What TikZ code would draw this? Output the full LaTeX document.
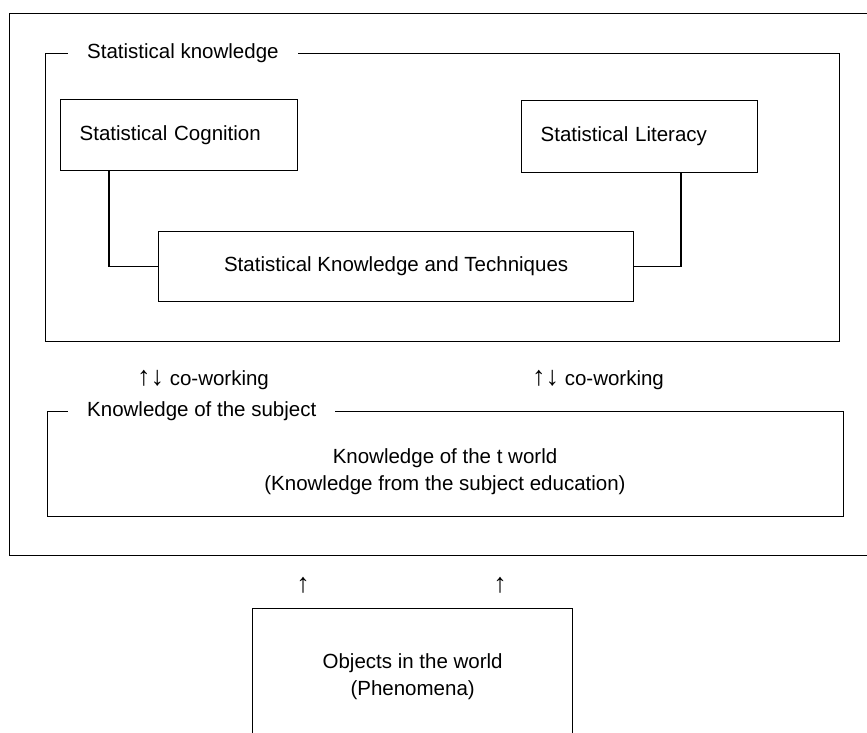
\documentclass[tikz,border=0pt]{standalone}
\usepackage{fontspec}
\setmainfont{Liberation Sans}
\usetikzlibrary{positioning}
\newcommand{\bigarrows}[1]{{\fontsize{27}{27}\selectfont #1}}

\begin{document}
\begin{tikzpicture}[x=1pt, y=-1pt,
  txt/.style={font=\fontsize{20.5}{27}\selectfont, inner sep=0pt},
  frame/.style={draw, line width=1.3pt, inner sep=0pt, anchor=north west},
  framelabel/.style={txt, fill=white, inner xsep=19pt, inner ysep=2pt, anchor=west},
  leftbox/.style={frame, txt, align=left, inner xsep=19pt},
  midbox/.style={frame, txt, align=center}]
\clip (0,0) rectangle (867,732);
% frames
\node[frame, minimum width=880pt, minimum height=542pt] (outer) at (9,13) {};
\node[frame, minimum width=794pt, minimum height=288pt] (statframe) at (45,53) {};
\node[framelabel] (statlabel) at (68,53) {Statistical knowledge};
\node[frame, minimum width=796pt, minimum height=105pt] (subjframe) at (47,411) {};
\node[framelabel] (subjlabel) at (68,411) {Knowledge of the subject};
% boxes
\node[leftbox, minimum width=237pt, minimum height=71pt, text width=199pt] (cog) at (60,99) {Statistical Cognition};
\node[leftbox, minimum width=236pt, minimum height=72pt, text width=198pt] (lit) at (521,100) {Statistical Literacy};
\node[midbox, minimum width=475pt, minimum height=70pt] (tech) at (158,231) {Statistical Knowledge and Techniques};
\node[txt, align=center] (world) at (445,472) {Knowledge of the t world\\(Knowledge from the subject education)};
\node[midbox, minimum width=320pt, minimum height=136pt] (objects) at (252,608) {Objects in the world\\(Phenomena)};
% co-working and arrows
\node[txt] (cowork1) at (203,380) {\bigarrows{↑↓} co-working};
\node[txt] (cowork2) at (598,380) {\bigarrows{↑↓} co-working};
\node[txt] (up1) at (303,585) {\bigarrows{↑}};
\node[txt] (up2) at (500,585) {\bigarrows{↑}};
% links
\draw[line width=1.3pt] ([xshift=49pt]cog.south west) |- (tech.west);
\draw[line width=1.3pt] ([xshift=160pt]lit.south west) |- (tech.east);
\end{tikzpicture}
\end{document}
